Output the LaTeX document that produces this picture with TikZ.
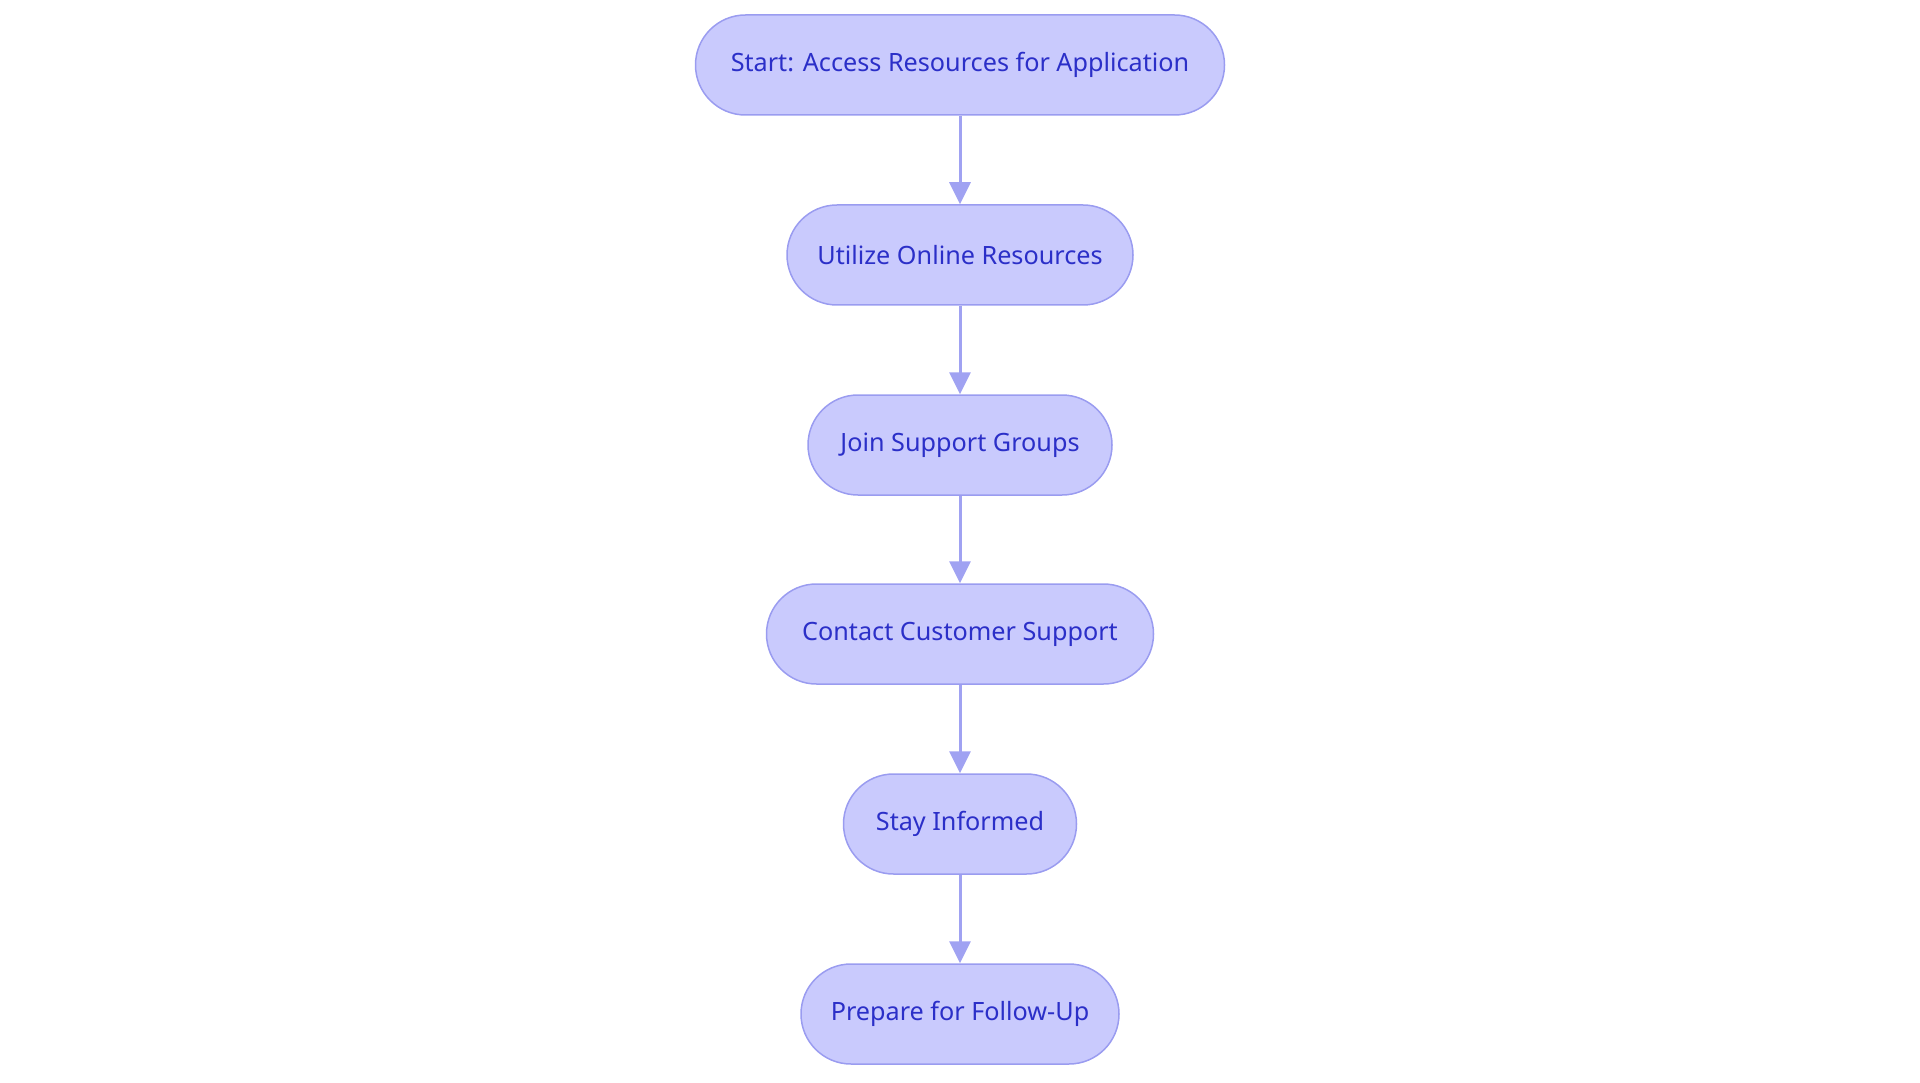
\documentclass[tikz,border=0pt]{standalone}
\usepackage{fontspec}
\setmainfont{Noto Sans}
\usetikzlibrary{arrows.meta}
\definecolor{nodefill}{HTML}{C9CAFD}
\definecolor{nodeline}{HTML}{9A9CF0}
\definecolor{nodetext}{HTML}{2B2FC8}
\definecolor{arrowcol}{HTML}{A0A2F2}
\tikzset{
  pill/.style={draw=nodeline, fill=nodefill, line width=1.5pt, rounded corners=50pt,
    minimum height=100pt, inner sep=0pt, text=nodetext, font=\fontsize{25.2}{29}\selectfont},
  flow/.style={draw=arrowcol, line width=3pt, -{Triangle[length=22pt,width=21pt]}, shorten >=0pt}
}
\begin{document}
\begin{tikzpicture}[x=1pt,y=-1pt]
\useasboundingbox (0,0) rectangle (1920,1083);
\node[pill, minimum width=529pt] (n1) at (960,65) {Start: Access Resources for Application};
\node[pill, minimum width=346pt] (n2) at (960,255) {Utilize Online Resources};
\node[pill, minimum width=304pt] (n3) at (960,445) {Join Support Groups};
\node[pill, minimum width=387pt] (n4) at (960,634) {Contact Customer Support};
\node[pill, minimum width=233pt] (n5) at (960,824) {Stay Informed};
\node[pill, minimum width=318pt] (n6) at (960,1014) {Prepare for Follow-Up};
\draw[flow] (n1) -- (n2);
\draw[flow] (n2) -- (n3);
\draw[flow] (n3) -- (n4);
\draw[flow] (n4) -- (n5);
\draw[flow] (n5) -- (n6);
\end{tikzpicture}
\end{document}
